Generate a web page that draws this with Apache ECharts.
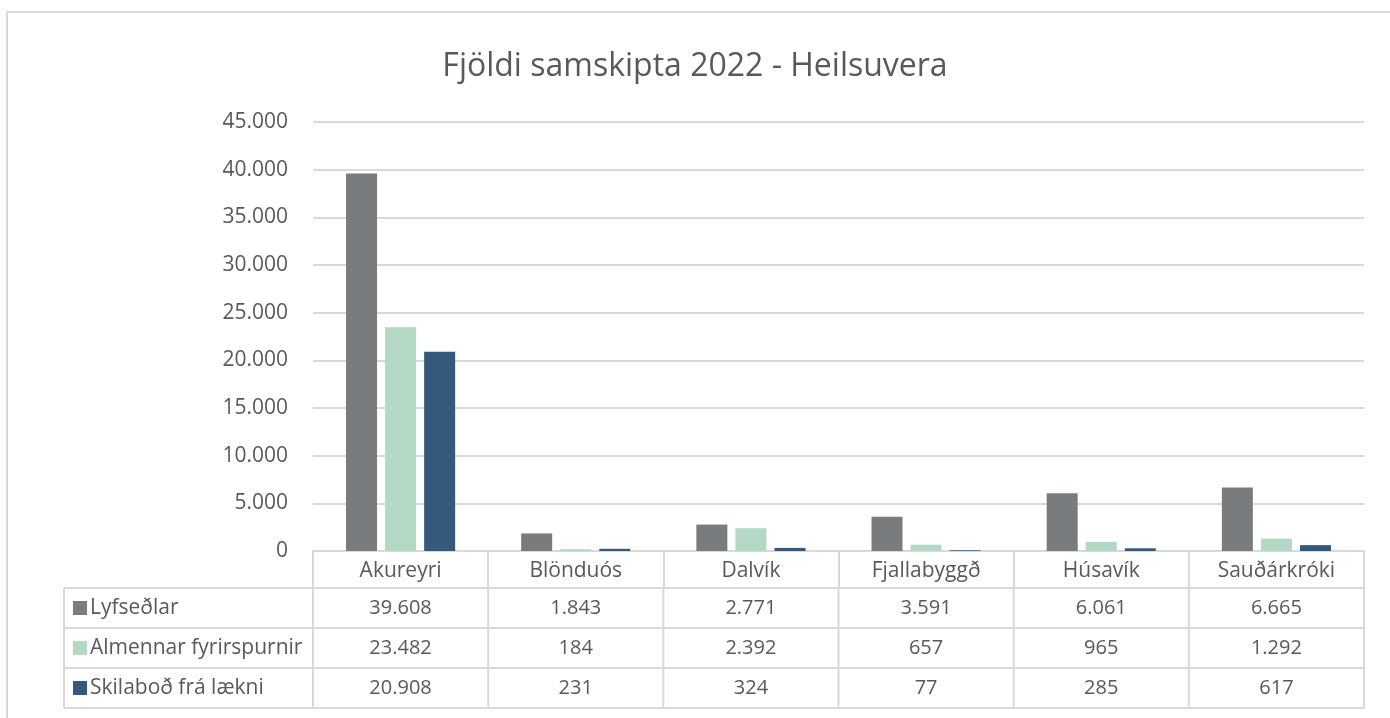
<!DOCTYPE html>
<html>
<head>
<meta charset="utf-8">
<script src="https://cdn.jsdelivr.net/npm/echarts@6/dist/echarts.min.js"></script>
<style>
html, body { margin: 0; padding: 0; background: #fff; }
#main { width: 1390px; height: 718px; }
</style>
</head>
<body>
<div id="main"></div>
<script>
// chart data
var categories = ['Akureyri', 'Blönduós', 'Dalvík', 'Fjallabyggð', 'Húsavík', 'Sauðárkróki'];
var seriesNames = ['Lyfseðlar', 'Almennar fyrirspurnir', 'Skilaboð frá lækni'];
var lyfsedlar = [39608, 1843, 2771, 3591, 6061, 6665];
var almennar = [23482, 184, 2392, 657, 965, 1292];
var skilabod = [20908, 231, 324, 77, 285, 617];
var yTicks = [0, 5000, 10000, 15000, 20000, 25000, 30000, 35000, 40000, 45000];

var colors = ['#787c7e', '#b3d9c5', '#34597d'];
var textColor = '#595959';
var lineColor = '#d9d9d9';
var font = 'Open Sans';

function fmt(v) {
    // icelandic thousands separator
    return String(v).replace(/\B(?=(\d{3})+(?!\d))/g, '.');
}

var chart = echarts.init(document.getElementById('main'));
var allSeries = [lyfsedlar, almennar, skilabod];

var option = {
    animation: false,
    color: colors,
    title: {
        text: 'Fjöldi samskipta 2022 - Heilsuvera',
        left: 'center',
        top: 46,
        textStyle: { color: textColor, fontFamily: font, fontSize: 32, fontWeight: 'normal' }
    },
    grid: {
        left: 313,
        right: 26,
        top: 122,
        bottom: 167
    },
    xAxis: {
        type: 'category',
        data: categories,
        axisLine: { lineStyle: { color: lineColor, width: 2 } },
        axisTick: { show: true, length: 37, lineStyle: { color: lineColor, width: 2 } },
        axisLabel: { color: textColor, fontFamily: font, fontSize: 21, margin: 10 }
    },
    yAxis: {
        type: 'value',
        min: yTicks[0],
        max: yTicks[yTicks.length - 1],
        interval: yTicks[1] - yTicks[0],
        axisLine: { show: false },
        axisTick: { show: false },
        splitLine: { lineStyle: { color: lineColor, width: 2 } },
        axisLabel: {
            color: textColor, fontFamily: font, fontSize: 21, margin: 25,
            formatter: function (v) { return fmt(v); }
        }
    },
    series: seriesNames.map(function (name, i) {
        return {
            name: name,
            type: 'bar',
            data: allSeries[i],
            barWidth: 31,
            barGap: '26%'
        };
    })
};
chart.setOption(option);

// data table under the axis, positioned from the axis scales
var y0 = chart.convertToPixel({ yAxisIndex: 0 }, 0);
var c0 = chart.convertToPixel({ xAxisIndex: 0 }, 0);
var c1 = chart.convertToPixel({ xAxisIndex: 0 }, 1);
var band = c1 - c0;
var xLeft = c0 - band / 2;
var xRight = xLeft + band * categories.length;
var tableLeft = 64;
var headH = 37;
var rowH = 40;
var g = [];

// outer border of the chart area
g.push({ type: 'rect', shape: { x: 7, y: 12, width: 1400, height: 800 },
    style: { fill: null, stroke: lineColor, lineWidth: 2 }, silent: true });

var top0 = y0 + headH;
for (var r = 0; r <= seriesNames.length; r++) {
    var yy = top0 + r * rowH;
    g.push({ type: 'line', shape: { x1: tableLeft, y1: yy, x2: xRight, y2: yy },
        style: { stroke: lineColor, lineWidth: 2 } });
}
g.push({ type: 'line', shape: { x1: tableLeft, y1: top0, x2: tableLeft, y2: top0 + rowH * seriesNames.length },
    style: { stroke: lineColor, lineWidth: 2 } });
for (var c = 0; c <= categories.length; c++) {
    var xx = xLeft + c * band;
    g.push({ type: 'line', shape: { x1: xx, y1: top0, x2: xx, y2: top0 + rowH * seriesNames.length },
        style: { stroke: lineColor, lineWidth: 2 } });
}
seriesNames.forEach(function (name, i) {
    var cy = top0 + i * rowH + rowH / 2;
    g.push({ type: 'rect', shape: { x: 73, y: cy - 7, width: 14, height: 14 },
        style: { fill: colors[i] } });
    g.push({ type: 'text', x: 90, y: cy,
        style: { text: name, fill: textColor, font: '21px "' + font + '"', verticalAlign: 'middle' } });
    allSeries[i].forEach(function (v, j) {
        var cx = chart.convertToPixel({ xAxisIndex: 0 }, j);
        g.push({ type: 'text', x: cx, y: cy,
            style: { text: fmt(v), fill: textColor, font: '20px "' + font + '"', align: 'center', verticalAlign: 'middle' } });
    });
});

chart.setOption({ graphic: g });
</script>
</body>
</html>
